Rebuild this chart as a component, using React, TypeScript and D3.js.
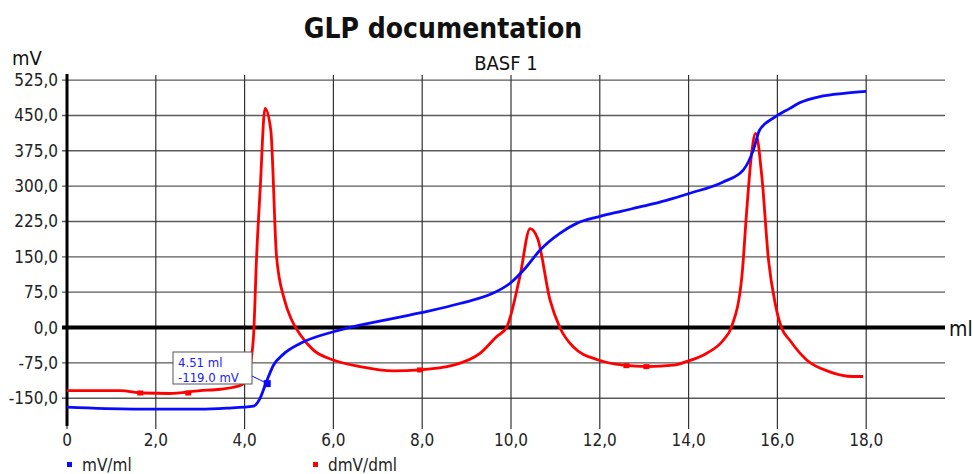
import React from "react";
import * as d3 from "d3";

const xTicks = [0, 2, 4, 6, 8, 10, 12, 14, 16, 18];
const yTicks = [-150, -75, 0, 75, 150, 225, 300, 375, 450, 525];

const blueX = [0, 1.5, 3.0, 3.6, 4.2, 4.35, 4.48, 4.65, 4.87, 5.25, 6.0, 6.6, 7.95, 8.85, 9.6, 9.98, 10.35, 10.65, 11.1, 11.48, 11.97, 12.5, 13.0, 13.5, 14.03, 14.78, 15.23, 15.46, 15.6, 15.95, 16.28, 16.5, 17.0, 17.5, 18.0];
const blueV = [-169, -173, -173, -171, -167, -150, -118, -80, -57, -34, -9, 5, 31, 51, 73, 94, 129, 164, 200, 221, 235, 247, 258, 270, 285, 309, 334, 377, 419, 447, 465, 477, 491, 497, 501];

const redX = [0, 1.2, 1.7, 2.3, 3.0, 3.45, 3.93, 4.1, 4.2, 4.27, 4.35, 4.46, 4.59, 4.72, 4.9, 5.05, 5.25, 5.55, 6.0, 6.6, 7.35, 7.95, 8.7, 9.3, 9.68, 9.9, 10.2, 10.43, 10.6, 10.88, 11.1, 11.4, 11.97, 12.53, 13.06, 13.66, 13.96, 14.4, 14.78, 14.97, 15.2, 15.31, 15.42, 15.51, 15.65, 15.8, 15.95, 16.1, 16.28, 16.66, 17.18, 17.7, 17.93];
const redV = [-134, -134, -139, -140, -134, -131, -122, -90, -20, 150, 292, 465, 419, 150, 58, 18, -15, -48, -69, -83, -92, -90, -80, -55, -19, 0, 108, 210, 189, 58, 0, -41, -69, -80, -83, -80, -72, -55, -27, 2, 108, 249, 370, 412, 320, 143, 51, -2, -27, -69, -94, -104, -104];

const redMarkerX = [1.65, 2.73, 7.95, 12.6, 13.05];
const redMarkerV = [-139, -139, -90, -81, -83];

const selX = 4.51;
const selV = -119.0;

const fmt = (v: number) => (v === 0 ? "0" : v.toFixed(1).replace(".", ","));
const fmtY = (v: number) => v.toFixed(1).replace(".", ",");

export default function App() {
  const W = 973, H = 474;
  const x = d3.scaleLinear().domain([0, 19.775]).range([67, 945]);
  const y = d3.scaleLinear().domain([-209, 538]).range([426, 74]);
  const line = d3
    .line<[number, number]>()
    .x((d) => x(d[0]))
    .y((d) => y(d[1]))
    .curve(d3.curveMonotoneX);
  const blue = blueX.map((v, i) => [v, blueV[i]] as [number, number]);
  const red = redX.map((v, i) => [v, redV[i]] as [number, number]);
  const font = "'DejaVu Sans Condensed', 'DejaVu Sans', sans-serif";
  const sx = x(selX), sy = y(selV);

  return (
    <svg width={W} height={H} style={{ position: "absolute", left: 0, top: 0, background: "#fff" }} fontFamily={font}>
      <rect x={0} y={0} width={W} height={H} fill="#fff" />
      <text x={443} y={38} textAnchor="middle" fontSize={28} fontWeight="bold" fill="#111">GLP documentation</text>
      <text x={506} y={70} textAnchor="middle" fontSize={20} fill="#111">BASF 1</text>
      <text x={12} y={65} fontSize={20} fill="#111">mV</text>

      {yTicks.map((t) => (
        <g key={"y" + t}>
          <line x1={62} x2={945} y1={y(t)} y2={y(t)} stroke="#5a5a5a" strokeWidth={1.4} />
          <text x={58} y={y(t) + 6} textAnchor="end" fontSize={17} fill="#222">{fmtY(t)}</text>
        </g>
      ))}
      {xTicks.map((t) => (
        <g key={"x" + t}>
          <line x1={x(t)} x2={x(t)} y1={75} y2={429} stroke="#333" strokeWidth={1.2} />
          <text x={x(t)} y={446} textAnchor="middle" fontSize={17} fill="#222">{fmt(t)}</text>
        </g>
      ))}
      <line x1={62} x2={945} y1={y(0)} y2={y(0)} stroke="#000" strokeWidth={4} />
      <line x1={67} x2={67} y1={74} y2={426} stroke="#000" strokeWidth={3} />
      <text x={949} y={y(0) + 8} fontSize={21} fill="#111">ml</text>

      <path d={line(red) || ""} fill="none" stroke="#ff0000" strokeWidth={2.8} strokeLinejoin="round" />
      <path d={line(blue) || ""} fill="none" stroke="#0a0aff" strokeWidth={2.8} strokeLinejoin="round" />
      {redMarkerX.map((v, i) => (
        <rect key={"m" + i} x={x(v) - 3} y={y(redMarkerV[i]) - 2.5} width={6} height={5} fill="#ff0000" />
      ))}

      <line x1={252} y1={376} x2={sx} y2={sy} stroke="#0a0aff" strokeWidth={1} />
      <rect x={sx - 3.5} y={sy - 3.5} width={7} height={7} fill="#0a0aff" />
      <rect x={173} y={352} width={79} height={32} fill="#fff" stroke="#555" strokeWidth={1} />
      <text x={178} y={367} fontSize={13} fill="#1a1aff">4.51 ml</text>
      <text x={178} y={382} fontSize={13} fill="#1a1aff">-119.0 mV</text>

      <rect x={67} y={462} width={5} height={5} fill="#0a0aff" />
      <text x={82} y={471} fontSize={17} fill="#222">mV/ml</text>
      <rect x={313} y={462} width={5} height={5} fill="#ff0000" />
      <text x={328} y={471} fontSize={17} fill="#222">dmV/dml</text>
    </svg>
  );
}
